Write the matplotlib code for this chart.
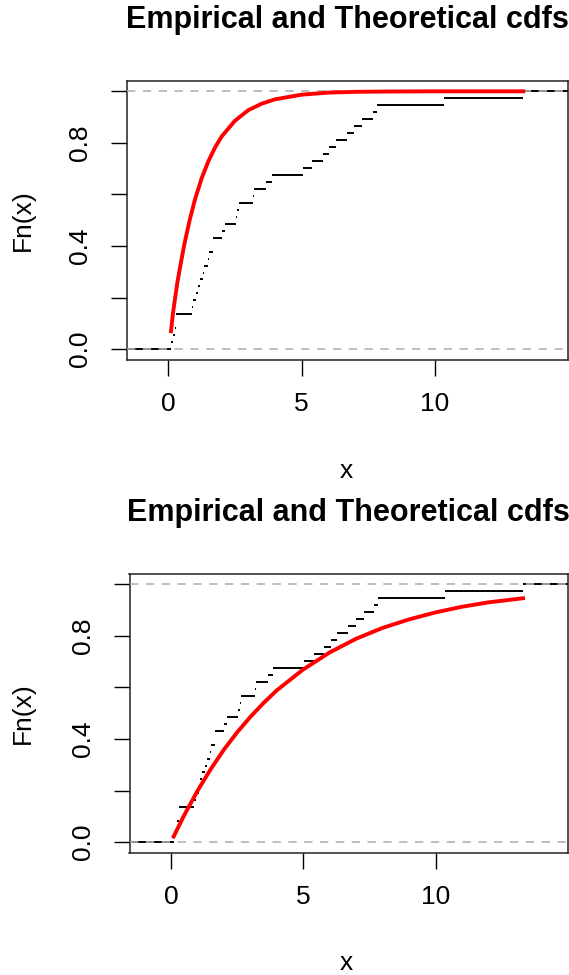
import matplotlib
matplotlib.use("Agg")
import matplotlib.pyplot as plt
import numpy as np

plt.rcParams['font.family'] = ['Liberation Sans', 'DejaVu Sans']

sample = [0.10, 0.17, 0.24, 0.30, 0.30, 0.88, 0.94, 1.05, 1.10, 1.18,
          1.29, 1.35, 1.47, 1.53, 1.66, 1.66, 2.00, 2.11, 2.53, 2.59,
          2.64, 3.17, 3.22, 3.68, 3.87, 5.04, 5.39, 5.79, 6.04, 6.28,
          6.69, 6.98, 7.28, 7.69, 7.84, 10.34, 13.31]

# theoretical cdf, top panel (poor fit)
top_x = [0.10, 0.17, 0.25, 0.34, 0.45, 0.60, 0.80, 1.00, 1.25, 1.50,
         1.75, 2.00, 2.50, 3.00, 3.50, 4.00, 5.00, 6.00, 7.00, 8.00,
         10.00, 13.31]
top_F = [0.070, 0.137, 0.196, 0.260, 0.324, 0.407, 0.501, 0.581, 0.663, 0.729,
         0.782, 0.825, 0.886, 0.927, 0.952, 0.969, 0.987, 0.995, 0.998, 0.999,
         1.000, 1.000]

# theoretical cdf, bottom panel
bot_x = [0.10, 0.50, 1.00, 1.50, 2.00, 2.50, 3.00, 3.50, 4.00, 5.00,
         6.00, 7.00, 8.00, 9.00, 10.00, 11.00, 12.00, 13.31]
bot_F = [0.022, 0.105, 0.199, 0.283, 0.359, 0.426, 0.486, 0.540, 0.589, 0.670,
         0.736, 0.789, 0.831, 0.864, 0.891, 0.913, 0.930, 0.946]

x_ticks = [0, 5, 10]
y_ticks = [0.0, 0.2, 0.4, 0.6, 0.8, 1.0]
y_ticklabels = ['0.0', '', '0.4', '', '0.8', '']
title = 'Empirical and Theoretical cdfs'

W, H = 569, 975
fig = plt.figure(figsize=(W / 100, H / 100), dpi=100)

xlim = (-1.57, 14.99)
ylim = (-0.04, 1.04)

vals, counts = np.unique(sample, return_counts=True)
Fn = np.cumsum(counts) / len(sample)


def panel(box, cx, cy):
    left, top, right, bottom = box
    ax = fig.add_axes([left / W, 1 - bottom / H, (right - left) / W, (bottom - top) / H])
    ax.set_xlim(*xlim)
    ax.set_ylim(*ylim)

    # step function
    starts = np.concatenate([[xlim[0]], vals])
    ends = np.concatenate([vals, [xlim[1]]])
    levels = np.concatenate([[0.0], Fn])
    ax.hlines(levels, starts, ends, color='black', lw=1.4, zorder=2)
    ax.axhline(0, color='#b3b3b3', lw=1.2, ls=(0, (5, 4.5)), zorder=3)
    ax.axhline(1, color='#b3b3b3', lw=1.2, ls=(0, (5, 4.5)), zorder=3)
    ax.plot(cx, cy, color='red', lw=2.8, zorder=4)

    ax.set_xticks(x_ticks)
    ax.set_yticks(y_ticks)
    ax.set_yticklabels(y_ticklabels, rotation=90, va='center')
    ax.tick_params(labelsize=19, length=11.5, width=1.0, pad=12, colors='black')
    ax.tick_params(axis='y', pad=13)
    for s in ax.spines.values():
        s.set_linewidth(1.1)
        s.set_color('#222222')

    fig.text((left + right) / 2 / W, 1 - (top - 61) / H, title,
             ha='center', va='center', fontsize=22, fontweight='bold')
    fig.text(346 / W, 1 - (bottom + 111) / H, 'x', ha='center', va='center', fontsize=19)
    fig.text(23 / W, 1 - (top + bottom) / 2 / H, 'Fn(x)', ha='center', va='center',
             rotation=90, fontsize=19)
    return ax


panel((126.5, 81, 568, 359.5), top_x, top_F)
panel((129.5, 574, 567.5, 852.5), bot_x, bot_F)

fig.savefig('out.png', dpi=100)
